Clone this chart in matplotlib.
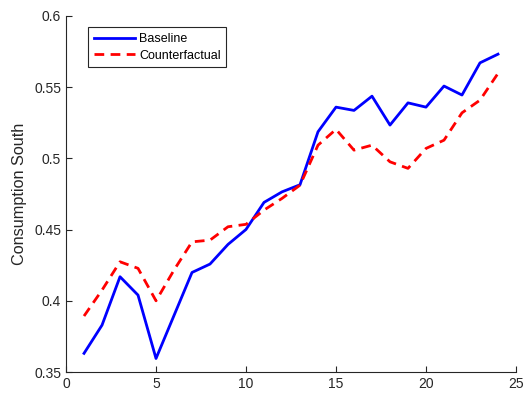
import matplotlib
matplotlib.use("Agg")
import matplotlib.pyplot as plt

periods = list(range(1, 25))
baseline = [0.3631, 0.3829, 0.4169, 0.4040, 0.3595, 0.3897, 0.4199, 0.4258,
            0.4396, 0.4501, 0.4691, 0.4765, 0.4815, 0.5187, 0.5360, 0.5337,
            0.5437, 0.5234, 0.5390, 0.5360, 0.5508, 0.5445, 0.5671, 0.5732]
counterfactual = [0.3893, 0.4075, 0.4274, 0.4228, 0.4000, 0.4216, 0.4414, 0.4426,
                  0.4520, 0.4537, 0.4637, 0.4719, 0.4812, 0.5093, 0.5204, 0.5058,
                  0.5093, 0.4976, 0.4930, 0.5070, 0.5128, 0.5320, 0.5409, 0.5597]

xticks = [0, 5, 10, 15, 20, 25]
yticks = [0.35, 0.4, 0.45, 0.5, 0.55, 0.6]
ytick_labels = ["0.35", "0.4", "0.45", "0.5", "0.55", "0.6"]

plt.rcParams['font.family'] = ['Liberation Sans', 'DejaVu Sans']
axis_grey = (0.15, 0.15, 0.15)

fig = plt.figure(figsize=(5.29, 3.96), dpi=100)
ax = fig.add_axes([0.1248, 0.0606, 0.8506, 0.899])

ax.plot(periods, baseline, color=(0, 0, 1), lw=2, label='Baseline')
ax.plot(periods, counterfactual, color=(1, 0, 0), lw=2, dashes=(3.5, 2.3),
        label='Counterfactual')

ax.set_xlim(0, 25)
ax.set_ylim(0.35, 0.6)
ax.set_xticks(xticks)
ax.set_yticks(yticks)
ax.set_yticklabels(ytick_labels)

for side in ['top', 'right']:
    ax.spines[side].set_visible(False)
for side in ['left', 'bottom']:
    ax.spines[side].set_color(axis_grey)
    ax.spines[side].set_linewidth(0.8)
ax.tick_params(direction='in', length=4, width=0.8, color=axis_grey,
               labelcolor=axis_grey, labelsize=10)

ax.set_ylabel('Consumption South', fontsize=11.7, color=axis_grey, labelpad=5)

leg = ax.legend(loc='upper left', bbox_to_anchor=(0.0496, 0.968), fontsize=9,
                fancybox=False, framealpha=1, borderpad=0.45, handlelength=3.3,
                handletextpad=0.32, labelspacing=0.38, borderaxespad=0)
leg.get_frame().set_edgecolor(axis_grey)
leg.get_frame().set_linewidth(0.8)

fig.savefig('out.png', dpi=100)
